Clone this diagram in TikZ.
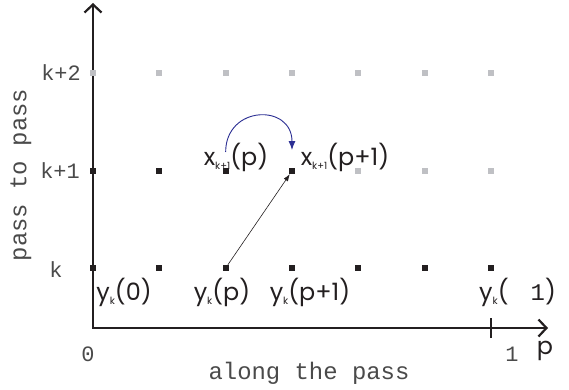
\documentclass[tikz,border=0pt]{standalone}
\usepackage{fontspec}
\setmainfont{Poppins}
\setmonofont{Liberation Mono}
\usetikzlibrary{arrows.meta, positioning}
\definecolor{dotgray}{HTML}{BFC0C4}
\definecolor{arcblue}{HTML}{2B2E93}
\definecolor{inkblack}{HTML}{231F20}
\definecolor{monogray}{HTML}{4A4A4A}
\newcommand{\sub}[1]{\raisebox{-4bp}{\fontsize{10}{10}\selectfont #1}}

\begin{document}
\begin{tikzpicture}[x=1bp, y=1bp,
  dot/.style={rectangle, fill=inkblack, inner sep=0pt, minimum size=6bp},
  faint/.style={dot, fill=dotgray},
  axis/.style={line width=2.8bp, color=inkblack, {Straight Barb[length=8bp, width=17bp, line width=2.2bp]}-{Straight Barb[length=8bp, width=17bp, line width=2.2bp]}},
  mono/.style={font=\ttfamily\fontsize{22}{22}\selectfont, text=monogray, inner sep=0pt},
  monobig/.style={mono, font=\ttfamily\fontsize{24}{24}\selectfont},
  lab/.style={font=\fontsize{24}{24}\selectfont, text=inkblack, inner sep=0pt},
  arr/.style={-{Latex[length=7bp, width=5bp]}, line width=0.6bp, color=inkblack},
  bluearr/.style={-{Latex[length=9bp, width=7bp]}, line width=0.9bp, color=arcblue},
]
\useasboundingbox (0,0) rectangle (569,389);

\coordinate (o) at (93,61);
\coordinate (ytop) at (93,386);
\coordinate (xend) at (548,61);
\draw[axis] (ytop) -- (o) -- (xend);

% grid of passes
\foreach \i in {0,...,6} \node[dot] (k\i) at (93+66.33*\i, 121) {};
\foreach \i in {0,...,3} \node[dot] (ka\i) at (93+66.33*\i, 218) {};
\foreach \i in {4,5,6} \node[faint] (ka\i) at (93+66.33*\i, 218) {};
\foreach \i in {0,...,6} \node[faint] (kb\i) at (93+66.33*\i, 316) {};

% tick at 1
\draw[line width=2.8bp, color=inkblack] ([yshift=-10bp]k6 |- o) -- ([yshift=10bp]k6 |- o);

% axis labels
\node[mono, anchor=east] (lk2) at (81,316) {k+2};
\node[mono, anchor=east] (lk1) at (80,218) {k+1};
\node[mono] (lk) at (56,119) {k};
\node[monobig, rotate=90] (lpass) at (21,214) {pass to pass};
\node[mono] (l0) at (88,35) {0};
\node[mono] (l1) at (512,35) {1};
\node[lab] (lp) at (545,38) {p};
\node[monobig] (lalong) at (309,16) {along the pass};

% point labels
\node[lab] (yk0) at (124,97) {y\sub{k}(0)};
\node[lab] (ykp) at (222,97) {y\sub{k}(p)};
\node[lab] (ykp1) at (310,97) {y\sub{k}(p+1)};
\node[lab, anchor=west] (ykend) at (479,97) {y\sub{k}(\hspace{22bp}{\ttfamily 1})};
\node[lab] (xkp) at (236,232) {x\sub{k+1}(p)};
\node[lab] (xkp1) at (345,232) {x\sub{k+1}(p+1)};

% connectors
\draw[bluearr] ([yshift=19bp]ka2.center) to[out=90, in=90, looseness=1.8] ([yshift=21bp]ka3.center);
\draw[arr] (k2) -- (ka3);
\end{tikzpicture}
\end{document}
